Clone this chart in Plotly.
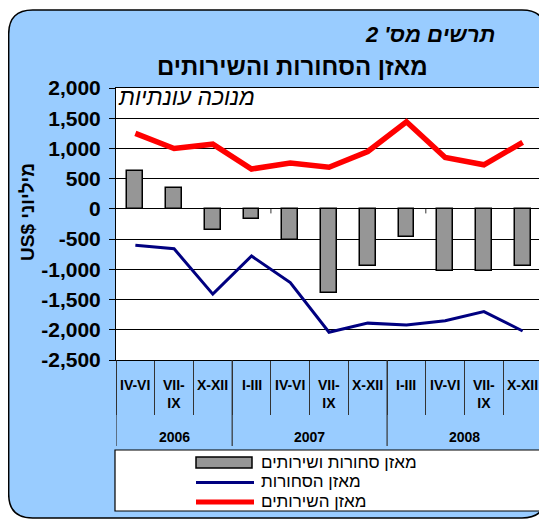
import plotly.graph_objects as go

# ---------------- data ----------------
quarters = ["IV-VI", "VII-<br>IX", "X-XII", "I-III", "IV-VI", "VII-<br>IX", "X-XII",
            "I-III", "IV-VI", "VII-<br>IX", "X-XII"]
years = ["2006", "2006", "2006", "2007", "2007", "2007", "2007",
         "2008", "2008", "2008", "2008"]
balance_total = [620, 340, -350, -165, -510, -1390, -950, -470, -1020, -1020, -950]
balance_goods = [-600, -660, -1410, -780, -1220, -2040, -1890, -1920, -1850, -1700, -2020]
balance_services = [1250, 1000, 1070, 660, 760, 690, 950, 1440, 850, 730, 1100]
series_names = ["מאזן סחורות ושירותים", "מאזן הסחורות", "מאזן השירותים"]
y_tickvals = [2000, 1500, 1000, 500, 0, -500, -1000, -1500, -2000, -2500]
y_ticktext = ["2,000", "1,500", "1,000", "500", "0", "-500", "-1,000", "-1,500", "-2,000", "-2,500"]
title_text = "מאזן הסחורות והשירותים"
subtitle_text = "תרשים מס' 2"
note_text = "מנוכה עונתיות"
y_title = "US$ מיליוני"

# ---------------- layout helpers (page pixel coords) ----------------
PAGE_W, PAGE_H = 547, 519
OFF = 8  # default body margin of the page
W, H = PAGE_W - OFF, PAGE_H - OFF
L, R, T, B = 116, 542, 88, 360
FONT = "Liberation Sans, Arial, DejaVu Sans, sans-serif"


def px(x):
    return (x - L) / (R - L)


def py(y):
    return (B - y) / (B - T)


def rounded_path(x0, y0, x1, y1, r):
    pts = [
        ("M", [(x0 + r, y0)]), ("L", [(x1 - r, y0)]), ("Q", [(x1, y0), (x1, y0 + r)]),
        ("L", [(x1, y1 - r)]), ("Q", [(x1, y1), (x1 - r, y1)]), ("L", [(x0 + r, y1)]),
        ("Q", [(x0, y1), (x0, y1 - r)]), ("L", [(x0, y0 + r)]), ("Q", [(x0, y0), (x0 + r, y0)]),
    ]
    s = ""
    for cmd, ps in pts:
        s += cmd + " ".join(f"{px(a):.5f},{py(b):.5f}" for a, b in ps) + " "
    return s + "Z"


idx = list(range(len(quarters)))

fig = go.Figure()
fig.add_trace(go.Bar(x=idx, y=balance_total, name=series_names[0], width=0.41,
                     marker=dict(color="#969696", line=dict(color="black", width=1.5)),
                     showlegend=False))
fig.add_trace(go.Scatter(x=idx, y=balance_goods, name=series_names[1], mode="lines",
                         line=dict(color="#000080", width=3), showlegend=False))
fig.add_trace(go.Scatter(x=idx, y=balance_services, name=series_names[2], mode="lines",
                         line=dict(color="#FF0000", width=5.5), showlegend=False))

shapes = []
# outer rounded blue panel
shapes.append(dict(type="path", xref="paper", yref="paper", path=rounded_path(8.7, 10, 546, 518, 24),
                   fillcolor="#99CCFF", line=dict(color="black", width=1.5), layer="below"))
# white plot area
shapes.append(dict(type="rect", xref="paper", yref="paper", x0=0, x1=1, y0=0, y1=1,
                   fillcolor="white", line=dict(width=0), layer="below"))
# legend box
shapes.append(dict(type="rect", xref="paper", yref="paper", x0=px(115), x1=px(542), y0=py(450), y1=py(511),
                   fillcolor="white", line=dict(color="black", width=1.2), layer="below"))

# year group dividers
groups = []
for i, y in enumerate(years):
    if not groups or groups[-1][0] != y:
        groups.append([y, i, i])
    else:
        groups[-1][2] = i
bounds = [g[1] - 0.5 for g in groups] + [groups[-1][2] + 0.5]
for b in bounds:
    shapes.append(dict(type="line", xref="x", yref="paper", x0=b, x1=b, y0=0, y1=py(446),
                       line=dict(color="#333333", width=1.2)))
# small tick marks on zero line
for b in [3.5, 7.5]:
    shapes.append(dict(type="line", xref="x", yref="y", x0=b, x1=b, y0=0, y1=-75,
                       line=dict(color="#333333", width=1)))

# legend rows
rows = [462.5, 481.5, 501]
shapes.append(dict(type="rect", xref="paper", yref="paper", x0=px(196), x1=px(252),
                   y0=py(rows[0] - 5.5), y1=py(rows[0] + 5.5),
                   fillcolor="#969696", line=dict(color="black", width=1.5)))
shapes.append(dict(type="line", xref="paper", yref="paper", x0=px(196), x1=px(254),
                   y0=py(rows[1] + 1), y1=py(rows[1] + 1), line=dict(color="#000080", width=3)))
shapes.append(dict(type="line", xref="paper", yref="paper", x0=px(196), x1=px(254),
                   y0=py(rows[2] + 1), y1=py(rows[2] + 1), line=dict(color="#FF0000", width=5)))

ann = []
ann.append(dict(text=f"<b>{title_text}</b>", x=px(292), y=py(66), xref="paper", yref="paper",
                xanchor="center", yanchor="middle", showarrow=False,
                font=dict(family=FONT, size=24, color="black")))
ann.append(dict(text=f"<b><i>{subtitle_text}</i></b>", x=px(497), y=py(34), xref="paper", yref="paper",
                xanchor="right", yanchor="middle", showarrow=False,
                font=dict(family=FONT, size=22, color="black")))
ann.append(dict(text=f"<i>{note_text}</i>", x=px(116), y=py(97), xref="paper", yref="paper",
                xanchor="left", yanchor="middle", showarrow=False,
                font=dict(family=FONT, size=23, color="black")))
ann.append(dict(text=f"<b>{y_title}</b>", x=px(27), y=py(212), xref="paper", yref="paper",
                xanchor="center", yanchor="middle", textangle=-90, showarrow=False,
                font=dict(family=FONT, size=19, color="black")))
for i, q in enumerate(quarters):
    ann.append(dict(text=f"<b>{q}</b>", x=i, y=py(375), xref="x", yref="paper",
                    xanchor="center", yanchor="top", showarrow=False, align="center",
                    font=dict(family=FONT, size=14, color="black")))
for y, a, b in groups:
    ann.append(dict(text=f"<b>{y}</b>", x=(a + b) / 2, y=py(437), xref="x", yref="paper",
                    xanchor="center", yanchor="middle", showarrow=False,
                    font=dict(family=FONT, size=14, color="black")))
for name, yy in zip(series_names, rows):
    ann.append(dict(text=name, x=px(259), y=py(yy), xref="paper", yref="paper",
                    xanchor="left", yanchor="middle", showarrow=False,
                    font=dict(family=FONT, size=17, color="black")))

fig.update_layout(
    width=W, height=H,
    margin=dict(l=L - OFF, r=PAGE_W - R, t=T - OFF, b=PAGE_H - B, pad=0),
    paper_bgcolor="white", plot_bgcolor="rgba(0,0,0,0)",
    shapes=shapes, annotations=ann, showlegend=False, bargap=0,
    xaxis=dict(type="linear", range=[-0.5, len(idx) - 0.5], showticklabels=False,
               tickvals=[i - 0.5 for i in range(len(idx) + 1)], ticks="outside", ticklen=54,
               tickcolor="#333333", tickwidth=1, showline=True, linecolor="black", linewidth=1,
               mirror=True, showgrid=False, zeroline=False),
    yaxis=dict(range=[-2500, 2000], tickvals=y_tickvals, ticktext=y_ticktext, ticks="outside",
               ticklen=6, tickcolor="black", showgrid=True, gridcolor="black", gridwidth=1,
               showline=True, linecolor="black", linewidth=1, mirror=True, zeroline=False,
               ticklabelstandoff=4,
               tickfont=dict(family=FONT, size=21, color="black", weight="bold")),
)

fig.write_html("out.html")
